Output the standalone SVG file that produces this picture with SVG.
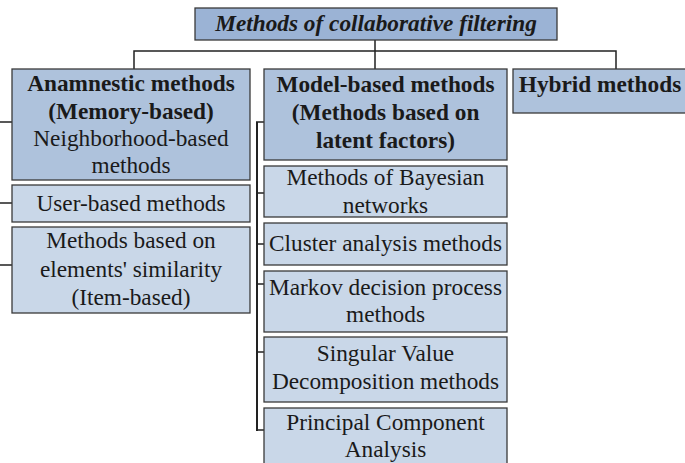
<svg xmlns="http://www.w3.org/2000/svg" width="685" height="463" viewBox="0 0 685 463">
<style>
.b{stroke:#3a3a3a;stroke-width:1.3}
.t0{fill:#9bb3d5}
.t1{fill:#aec2dc}
.t2{fill:#c9d7e8}
text{font-family:'Liberation Serif','DejaVu Serif',serif;font-size:23.3px;fill:#1a1a1a;text-anchor:middle}
.bd{font-weight:bold}
.bi{font-weight:bold;font-style:italic}
.c{fill:none;stroke:#222;stroke-width:1.5}
</style>
<rect width="685" height="463" fill="#fff"/>
<g id="connectors">
<path class="c" d="M375,40V69M134,69V51H616V69"/>
<path class="c" d="M0,122H12M0,203H12M0,265H12"/>
<path class="c" style="stroke-width:2" d="M257,122V431"/>
<path class="c" d="M256,122H264M256,193H264M256,244H264M256,284H264M256,352H264M256,430H264"/>
</g>
<g id="title">
<rect class="b t0" x="195" y="8" width="362" height="32"/>
<text class="bi" x="376" y="31">Methods of collaborative filtering</text>
</g>
<g id="memory">
<rect class="b t1" x="12" y="69" width="238" height="111"/>
<text class="bd" x="131" y="91">Anamnestic methods</text>
<text class="bd" x="131" y="119">(Memory-based)</text>
<text x="131" y="146">Neighborhood-based</text>
<text x="131" y="173">methods</text>
</g>
<g id="user">
<rect class="b t2" x="12" y="185" width="238" height="37"/>
<text x="131" y="211">User-based methods</text>
</g>
<g id="item">
<rect class="b t2" x="12" y="227" width="238" height="86"/>
<text x="131" y="248">Methods based on</text>
<text x="131" y="277">elements' similarity</text>
<text x="131" y="305">(Item-based)</text>
</g>
<g id="model">
<rect class="b t1" x="264" y="69" width="243" height="91"/>
<text class="bd" x="385.5" y="92">Model-based methods</text>
<text class="bd" x="385.5" y="120">(Methods based on</text>
<text class="bd" x="385.5" y="148">latent factors)</text>
</g>
<g id="hybrid">
<rect class="b t1" x="513" y="69" width="180" height="44"/>
<text class="bd" x="600" y="92">Hybrid methods</text>
</g>
<g id="bayes">
<rect class="b t2" x="264" y="166" width="243" height="51"/>
<text x="385.5" y="185">Methods of Bayesian</text>
<text x="385.5" y="213">networks</text>
</g>
<g id="cluster">
<rect class="b t2" x="264" y="223" width="243" height="42"/>
<text x="385.5" y="251">Cluster analysis methods</text>
</g>
<g id="markov">
<rect class="b t2" x="264" y="271" width="243" height="61"/>
<text x="385.5" y="295">Markov decision process</text>
<text x="385.5" y="322">methods</text>
</g>
<g id="svd">
<rect class="b t2" x="264" y="337" width="243" height="65"/>
<text x="385.5" y="361">Singular Value</text>
<text x="385.5" y="389">Decomposition methods</text>
</g>
<g id="pca">
<rect class="b t2" x="264" y="408" width="243" height="70"/>
<text x="385.5" y="430">Principal Component</text>
<text x="385.5" y="457">Analysis</text>
</g>
</svg>
